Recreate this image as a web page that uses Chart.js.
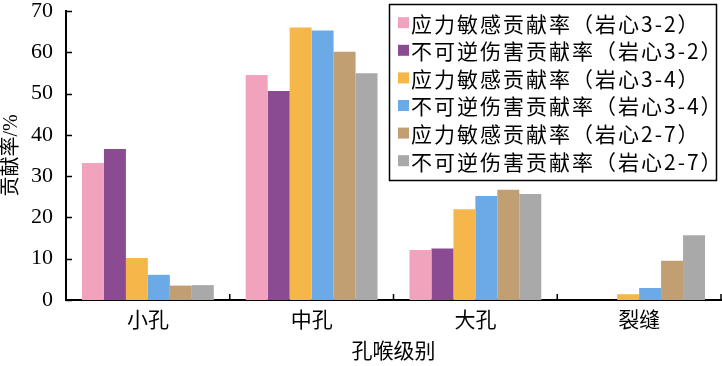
<!DOCTYPE html>
<html>
<head>
<meta charset="utf-8">
<script src="https://cdn.jsdelivr.net/npm/chart.js@4/dist/chart.umd.min.js"></script>
<style>
html,body{margin:0;padding:0;background:#fff;}
#wrap{width:722px;height:366px;position:relative;}
</style>
</head>
<body>
<div id="wrap"><canvas id="c" width="722" height="366"></canvas></div>
<script>
const categories = ['小孔', '中孔', '大孔', '裂缝'];
const seriesNames = [
  '应力敏感贡献率（岩心3-2）',
  '不可逆伤害贡献率（岩心3-2）',
  '应力敏感贡献率（岩心3-4）',
  '不可逆伤害贡献率（岩心3-4）',
  '应力敏感贡献率（岩心2-7）',
  '不可逆伤害贡献率（岩心2-7）'
];
const stress32 = [33.2, 54.5, 12.1, 0];
const damage32 = [36.6, 50.6, 12.5, 0];
const stress34 = [10.2, 66.0, 22.0, 1.4];
const damage34 = [6.1, 65.3, 25.2, 2.9];
const stress27 = [3.5, 60.1, 26.7, 9.5];
const damage27 = [3.6, 54.9, 25.7, 15.7];
const yTicks = [0, 10, 20, 30, 40, 50, 60, 70];
const xTitle = '孔喉级别';
const yTitle = '贡献率/%';

const colors = ['#F1A3BD', '#8A4B92', '#F6B74A', '#6CA9E7', '#C29F72', '#A9A9A9'];
const seriesValues = [stress32, damage32, stress34, damage34, stress27, damage27];

const CJK = "'Liberation Serif', 'Noto Sans CJK SC', serif";

const ticksPlugin = {
  id: 'inwardTicks',
  afterDraw(chart) {
    const ctx = chart.ctx;
    const x = chart.scales.x, y = chart.scales.y;
    const area = chart.chartArea;
    ctx.save();
    ctx.strokeStyle = '#000';
    ctx.lineWidth = 1.5;
    yTicks.forEach(v => {
      const py = Math.round(y.getPixelForValue(v)) + 0.5;
      ctx.beginPath();
      ctx.moveTo(area.left, py);
      ctx.lineTo(area.left + 6, py);
      ctx.stroke();
    });
    for (let i = 1; i <= categories.length; i++) {
      const px = x.getPixelForValue(i - 0.5);
      ctx.beginPath();
      ctx.moveTo(px, area.bottom);
      ctx.lineTo(px, area.bottom - 6);
      ctx.stroke();
    }
    ctx.restore();
  }
};

const legendPlugin = {
  id: 'boxLegend',
  afterDraw(chart) {
    const ctx = chart.ctx;
    const bx = 389, by = 4, bw = 327, bh = 176;
    ctx.save();
    ctx.fillStyle = '#fff';
    ctx.fillRect(bx, by, bw, bh);
    ctx.strokeStyle = '#000';
    ctx.lineWidth = 1.5;
    ctx.strokeRect(bx + 0.5, by + 0.5, bw, bh);
    ctx.font = "21px 'Noto Sans CJK SC', sans-serif";
    try { ctx.letterSpacing = '2px'; } catch (e) {}
    ctx.textBaseline = 'middle';
    ctx.textAlign = 'left';
    chart.data.datasets.forEach((ds, i) => {
      const cy = 22.7 + i * 27.6;
      ctx.fillStyle = ds.backgroundColor;
      ctx.fillRect(398, cy - 5.5, 11, 11);
      ctx.fillStyle = '#000';
      ctx.fillText(ds.label, 411, cy + 1);
    });
    ctx.restore();
  }
};

new Chart(document.getElementById('c'), {
  type: 'bar',
  data: {
    labels: categories,
    datasets: seriesNames.map((n, i) => ({
      label: n,
      data: seriesValues[i],
      backgroundColor: colors[i],
      borderWidth: 0,
      categoryPercentage: 0.805,
      barPercentage: 1.0
    }))
  },
  options: {
    responsive: false,
    animation: false,
    layout: { padding: { top: 11, right: 1, left: 0, bottom: 0 } },
    plugins: { legend: { display: false }, tooltip: { enabled: false } },
    scales: {
      x: {
        grid: { display: false, drawTicks: false },
        border: { display: true, color: '#000', width: 2 },
        ticks: { color: '#000', padding: 9, font: { family: CJK, size: 21 } },
        title: { display: true, text: xTitle, color: '#000', padding: { top: 0, bottom: 1 }, font: { family: CJK, size: 21 } },
        afterFit(s) { s.height = 66; s.paddingLeft = 0; s.paddingRight = 0; }
      },
      y: {
        min: 0, max: 70,
        afterBuildTicks(s) { s.ticks = yTicks.map(v => ({ value: v })); },
        grid: { display: false, drawTicks: false },
        border: { display: true, color: '#000', width: 2 },
        ticks: { color: '#000', padding: 13, font: { family: "'Liberation Serif', serif", size: 22 } },
        title: { display: true, text: yTitle, color: '#000', padding: 0, font: { family: CJK, size: 20 } },
        afterFit(s) { s.width = 66; s.paddingTop = 0; s.paddingBottom = 0; }
      }
    }
  },
  plugins: [ticksPlugin, legendPlugin]
});
</script>
</body>
</html>
